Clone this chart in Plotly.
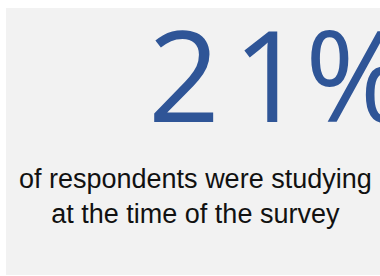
import plotly.graph_objects as go

W, H = 380, 276
stat_value = [21]
stat_suffix = ["%"]
caption_lines = ["of respondents were studying", "at the time of the survey"]

fig = go.Figure()
fig.add_shape(type="rect", xref="paper", yref="paper",
              x0=6 / W, x1=1.0, y0=1 - 275 / H, y1=1 - 8 / H,
              fillcolor="#F2F2F2", line=dict(width=0), layer="below")

digits = str(stat_value[0])
stat_text = f'<span style="letter-spacing:13px">{digits[0]}</span>{digits[1:]}{stat_suffix[0]}'
fig.add_annotation(xref="paper", yref="paper", x=146 / W, y=1 - 73.5 / H,
                   xanchor="left", yanchor="middle", showarrow=False,
                   text=stat_text,
                   font=dict(family="Open Sans", size=126, color="#2F5597"))

fig.add_annotation(xref="paper", yref="paper", x=195 / W, y=1 - 196 / H,
                   xanchor="center", yanchor="middle", showarrow=False,
                   text="<br>".join(caption_lines),
                   font=dict(family="Liberation Sans, Arial", size=27, color="#111111"))

fig.update_xaxes(visible=False)
fig.update_yaxes(visible=False)
fig.update_layout(width=W, height=H, margin=dict(l=0, r=0, t=0, b=0),
                  paper_bgcolor="white", plot_bgcolor="white", showlegend=False)
fig.write_html("out.html", config={"displayModeBar": False, "staticPlot": True},
               post_script=("document.body.style.margin='0';"
                            "document.body.style.overflow='hidden';"))
